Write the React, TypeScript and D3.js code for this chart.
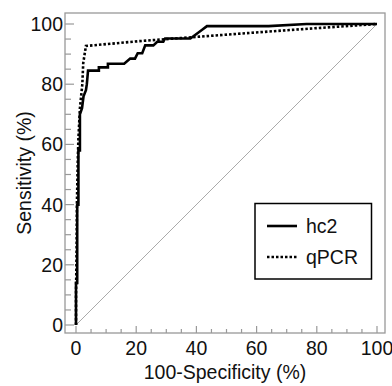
import React from "react";
import * as d3 from "d3";

const W = 392;
const H = 386;

const xTicks = [0, 20, 40, 60, 80, 100];
const yTicks = [0, 20, 40, 60, 80, 100];
const minorTicks = d3.range(0, 101, 5);

// [100-Specificity, Sensitivity]
const hc2: [number, number][] = [
  [0, 0], [0, 14], [0.4, 14], [0.4, 40], [0.8, 40], [0.8, 58], [1.3, 58], [1.3, 70],
  [2, 72], [2.5, 76], [3.3, 78], [3.6, 80], [4, 84.5], [7.6, 84.5], [7.6, 85.6],
  [10.6, 85.6], [10.6, 86.8], [16, 86.8], [18, 88.5], [19.6, 88.5], [20.5, 90.3],
  [22, 90.3], [23, 92.9], [25.7, 92.9], [27, 94.1], [29, 94.1], [29.6, 95.2],
  [38, 95.2], [41.8, 98], [43.5, 99.3], [64, 99.3], [76.6, 100], [100, 100],
];

const qpcr: [number, number][] = [
  [0, 0], [0, 10], [0.2, 25], [0.3, 40], [0.6, 55], [0.8, 62], [1.3, 72], [2.1, 80],
  [2.4, 87], [3.3, 92.7], [21, 94.3], [41, 95.8], [71, 98], [100, 100],
];

const seriesNames = ["hc2", "qPCR"];

export default function App() {
  const x = d3.scaleLinear().domain([0, 100]).range([76, 377]);
  const y = d3.scaleLinear().domain([0, 100]).range([325, 24]);
  const frame = { left: 65, right: 385, top: 13, bottom: 333 };
  const line = d3
    .line<[number, number]>()
    .x((d) => x(d[0]))
    .y((d) => y(d[1]));
  const font = "'Liberation Sans', Arial, Helvetica, sans-serif";
  const gray = "#999";

  return (
    <svg
      width={W}
      height={H}
      style={{ position: "absolute", left: 0, top: 0, background: "#fff" }}
      fontFamily={font}
    >
      <rect x={0} y={0} width={W} height={H} fill="#fff" />
      {/* diagonal */}
      <line x1={x(0)} y1={y(0)} x2={x(100)} y2={y(100)} stroke="#aaa" strokeWidth={1} />
      {/* frame */}
      <rect
        x={frame.left}
        y={frame.top}
        width={frame.right - frame.left}
        height={frame.bottom - frame.top}
        fill="none"
        stroke={gray}
        strokeWidth={1.3}
      />
      {/* x ticks */}
      {minorTicks.map((t) => (
        <line
          key={"xt" + t}
          x1={x(t)}
          x2={x(t)}
          y1={frame.bottom}
          y2={frame.bottom - (t % 20 === 0 ? 7 : 4)}
          stroke={gray}
          strokeWidth={1.2}
        />
      ))}
      {minorTicks.map((t) => (
        <line
          key={"yt" + t}
          y1={y(t)}
          y2={y(t)}
          x1={frame.left}
          x2={frame.left + (t % 20 === 0 ? 9 : 6)}
          stroke={gray}
          strokeWidth={1.2}
        />
      ))}
      {xTicks.map((t) => (
        <text key={"xl" + t} x={x(t)} y={355} fontSize={19.5} textAnchor="middle" fill="#111">
          {t}
        </text>
      ))}
      {yTicks.map((t) => (
        <text key={"yl" + t} x={63} y={y(t) + 7} fontSize={19.5} textAnchor="end" fill="#111">
          {t}
        </text>
      ))}
      <text x={225} y={379} fontSize={19.5} textAnchor="middle" fill="#111">
        100-Specificity (%)
      </text>
      <text
        transform={`translate(31,173) rotate(-90)`}
        fontSize={19.5}
        textAnchor="middle"
        fill="#111"
      >
        Sensitivity (%)
      </text>
      {/* curves */}
      <path d={line(qpcr) || ""} fill="none" stroke="#000" strokeWidth={2.6} strokeDasharray="2.5 2" />
      <path d={line(hc2) || ""} fill="none" stroke="#000" strokeWidth={2.6} strokeLinejoin="miter" />
      {/* legend */}
      <rect x={255} y={203.5} width={116.5} height={75.5} fill="#fff" stroke="#000" strokeWidth={1.5} />
      <line x1={267} x2={297} y1={226} y2={226} stroke="#000" strokeWidth={2.6} />
      <line x1={267} x2={297} y1={257} y2={257} stroke="#000" strokeWidth={2.6} strokeDasharray="2.5 2" />
      <text x={306} y={233} fontSize={19.5} fill="#111">
        {seriesNames[0]}
      </text>
      <text x={306} y={264} fontSize={19.5} fill="#111">
        {seriesNames[1]}
      </text>
    </svg>
  );
}
